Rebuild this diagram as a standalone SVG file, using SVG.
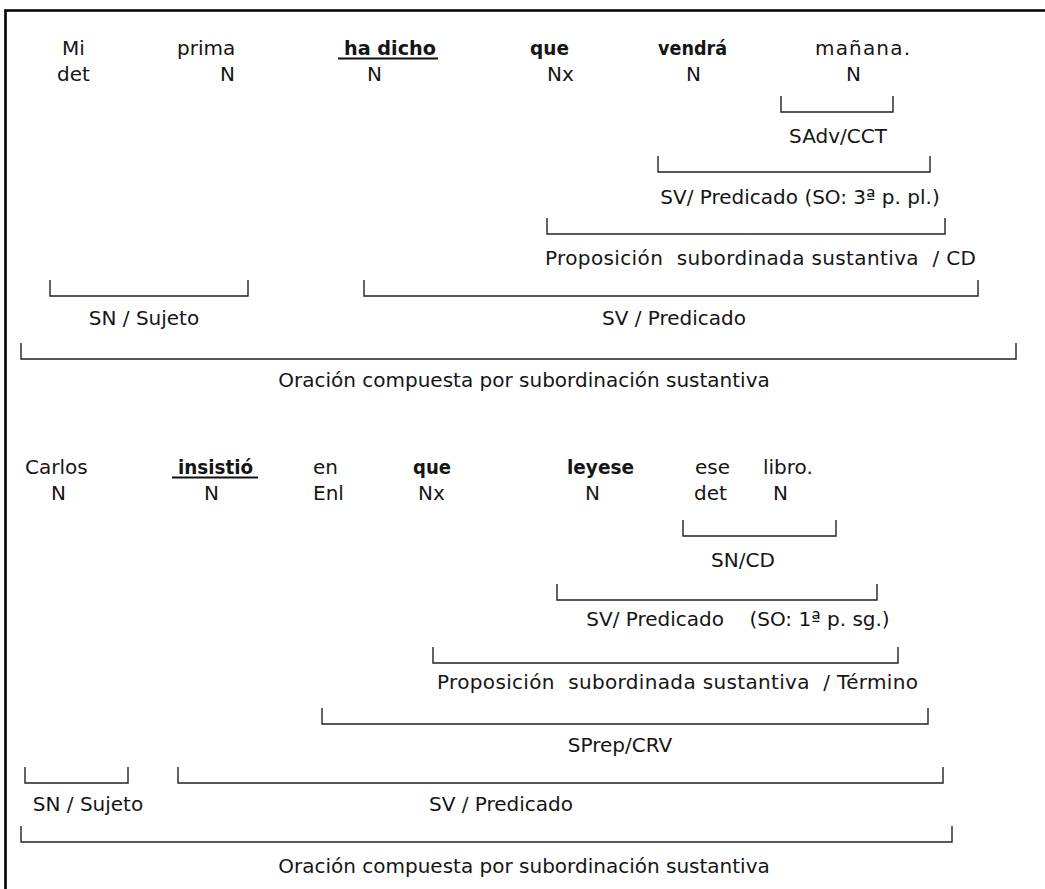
<svg xmlns="http://www.w3.org/2000/svg" width="1045" height="889" viewBox="0 0 1045 889">
<style>
text{font-family:"DejaVu Sans","Liberation Sans",sans-serif;font-size:20px;fill:#151515;}
.b{font-weight:bold;font-size:19px;}
.m{text-anchor:middle;}
.br{fill:none;stroke:#222;stroke-width:1.4;}
.ul{stroke:#111;stroke-width:1.8;}
</style>
<rect x="0" y="0" width="1045" height="889" fill="#fff"/>
<g id="frame">
<path d="M5.5,889 V10.5 H1045" fill="none" stroke="#000" stroke-width="2.6"/>
</g>
<g id="connectors">
<path class="br" d="M781,96 V112 H893 V96"/>
<path class="br" d="M658,156 V172 H930 V156"/>
<path class="br" d="M547,218 V234 H945 V218"/>
<path class="br" d="M50,280 V296 H248 V280"/>
<path class="br" d="M364,280 V296 H978 V280"/>
<path class="br" d="M21,343 V359 H1016 V343"/>
<path class="br" d="M683,520 V536 H836 V520"/>
<path class="br" d="M557,584 V600 H877 V584"/>
<path class="br" d="M433,647 V663 H898 V647"/>
<path class="br" d="M322,708 V724 H928 V708"/>
<path class="br" d="M25,767 V783 H128 V767"/>
<path class="br" d="M178,767 V783 H943 V767"/>
<path class="br" d="M21,826 V842 H952 V826"/>
</g>
<g id="s1-words">
<text x="62" y="55">Mi</text>
<text x="177" y="55">prima</text>
<text class="b" x="344" y="55" textLength="92" lengthAdjust="spacingAndGlyphs">ha dicho</text>
<line class="ul" x1="338" y1="58.5" x2="438" y2="58.5"/>
<text class="b" x="530" y="55" textLength="39" lengthAdjust="spacingAndGlyphs">que</text>
<text class="b" x="658" y="55" textLength="69" lengthAdjust="spacingAndGlyphs">vendrá</text>
<text x="815" y="55" textLength="95" lengthAdjust="spacing">mañana.</text>
</g>
<g id="s1-cats">
<text x="57" y="81">det</text>
<text x="220" y="81">N</text>
<text x="367" y="81">N</text>
<text x="547" y="81">Nx</text>
<text x="686" y="81">N</text>
<text x="846" y="81">N</text>
</g>
<g id="s1-sadv"><text class="m" x="838" y="143">SAdv/CCT</text></g>
<g id="s1-sv"><text class="m" x="800" y="204">SV/ Predicado (SO: 3ª p. pl.)</text></g>
<g id="s1-prop"><text x="545" y="265" textLength="431" lengthAdjust="spacing" xml:space="preserve">Proposición  subordinada sustantiva  / CD</text></g>
<g id="s1-sn"><text class="m" x="144" y="325">SN / Sujeto</text></g>
<g id="s1-svp"><text class="m" x="674" y="325">SV / Predicado</text></g>
<g id="s1-or"><text class="m" x="524" y="387">Oración compuesta por subordinación sustantiva</text></g>
<g id="s2-words">
<text x="25" y="474">Carlos</text>
<text class="b" x="178" y="474" textLength="75" lengthAdjust="spacingAndGlyphs">insistió</text>
<line class="ul" x1="172" y1="477.5" x2="258" y2="477.5"/>
<text x="313" y="474">en</text>
<text class="b" x="413" y="474" textLength="38" lengthAdjust="spacingAndGlyphs">que</text>
<text class="b" x="567" y="474" textLength="67" lengthAdjust="spacingAndGlyphs">leyese</text>
<text x="695" y="474">ese</text>
<text x="763" y="474">libro.</text>
</g>
<g id="s2-cats">
<text x="51" y="500">N</text>
<text x="204" y="500">N</text>
<text x="313" y="500">Enl</text>
<text x="418" y="500">Nx</text>
<text x="585" y="500">N</text>
<text x="694" y="500">det</text>
<text x="773" y="500">N</text>
</g>
<g id="s2-sncd"><text class="m" x="743" y="567">SN/CD</text></g>
<g id="s2-sv"><text class="m" x="738" y="626" xml:space="preserve">SV/ Predicado    (SO: 1ª p. sg.)</text></g>
<g id="s2-prop"><text x="437" y="689" textLength="481" lengthAdjust="spacing" xml:space="preserve">Proposición  subordinada sustantiva  / Término</text></g>
<g id="s2-sprep"><text class="m" x="620" y="752">SPrep/CRV</text></g>
<g id="s2-sn"><text class="m" x="88" y="811">SN / Sujeto</text></g>
<g id="s2-svp"><text class="m" x="501" y="811">SV / Predicado</text></g>
<g id="s2-or"><text class="m" x="524" y="873">Oración compuesta por subordinación sustantiva</text></g>
</svg>
